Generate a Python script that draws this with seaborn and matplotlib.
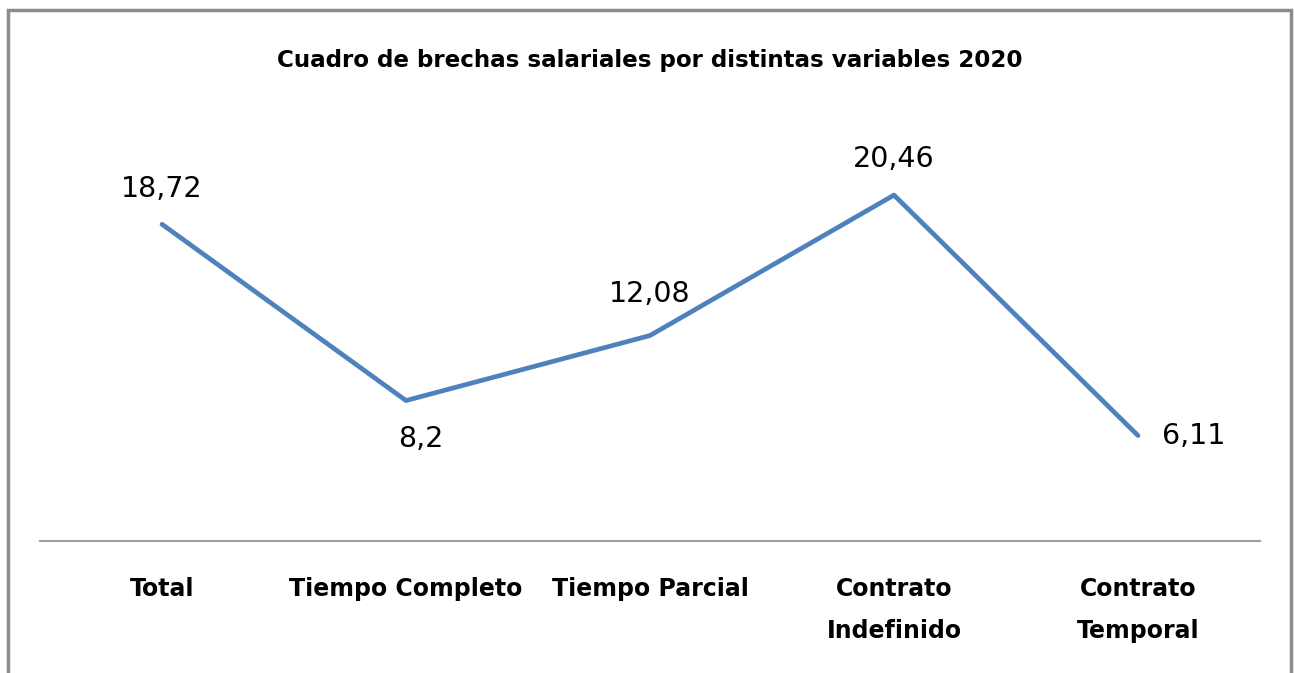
import matplotlib
matplotlib.use("Agg")
import matplotlib.pyplot as plt
import matplotlib.patches as mpatches
import seaborn as sns
import pandas as pd

categories = ["Total", "Tiempo Completo", "Tiempo Parcial", "Contrato\nIndefinido", "Contrato\nTemporal"]
values = [18.72, 8.2, 12.08, 20.46, 6.11]
labels = ["18,72", "8,2", "12,08", "20,46", "6,11"]
title = "Cuadro de brechas salariales por distintas variables 2020"

sns.set_style("white")
plt.rcParams['font.family'] = ['DejaVu Sans']
plt.rcParams['text.color'] = 'black'
plt.rcParams['xtick.color'] = 'black'

fig = plt.figure(figsize=(12.94, 6.73), dpi=100)
W, H = 1294, 673
ax = fig.add_axes([40 / W, 1 - 541 / H, 1220 / W, (541 - 119) / H])

df = pd.DataFrame({"cat": categories, "val": values})
df["x"] = range(len(df))
sns.lineplot(data=df, x="x", y="val", ax=ax, color="#4F81BD", linewidth=3.4,
             solid_capstyle="round", solid_joinstyle="round")

ax.set_xlim(-0.5, len(categories) - 0.5)
ax.set_ylim(-0.18, 25)
ax.set_xticks(range(len(categories)))
ax.set_xticklabels(categories, fontsize=17, fontweight="bold", linespacing=1.95,
                   color="black")
ax.tick_params(axis="x", length=0, pad=26)
ax.set_yticks([])
ax.set_xlabel("")
ax.set_ylabel("")
for s in ["top", "left", "right"]:
    ax.spines[s].set_visible(False)
ax.spines["bottom"].set_color("#A0A0A0")
ax.spines["bottom"].set_linewidth(1.5)

offsets = [(0, 35, "center", "center"), (15, -38, "center", "center"),
           (0, 42, "center", "center"), (0, 36, "center", "center"),
           (24, 0, "left", "center")]
for i, (v, lab) in enumerate(zip(values, labels)):
    dx, dy, ha, va = offsets[i]
    ax.annotate(lab, (i, v), xytext=(dx, dy), textcoords="offset pixels",
                ha=ha, va=va, fontsize=20.5, color="black")

fig.text(650 / W, 1 - 60 / H, title, ha="center", va="center",
         fontsize=16.6, fontweight="bold", color="black")

rect = mpatches.Rectangle((8 / W, -0.05), (1291 - 8) / W, 1.05 - 10 / H,
                          transform=fig.transFigure, fill=False,
                          edgecolor="#8C8C8C", linewidth=2.5, clip_on=False)
fig.patches.append(rect)

fig.savefig("out.png", dpi=100, facecolor="white")
